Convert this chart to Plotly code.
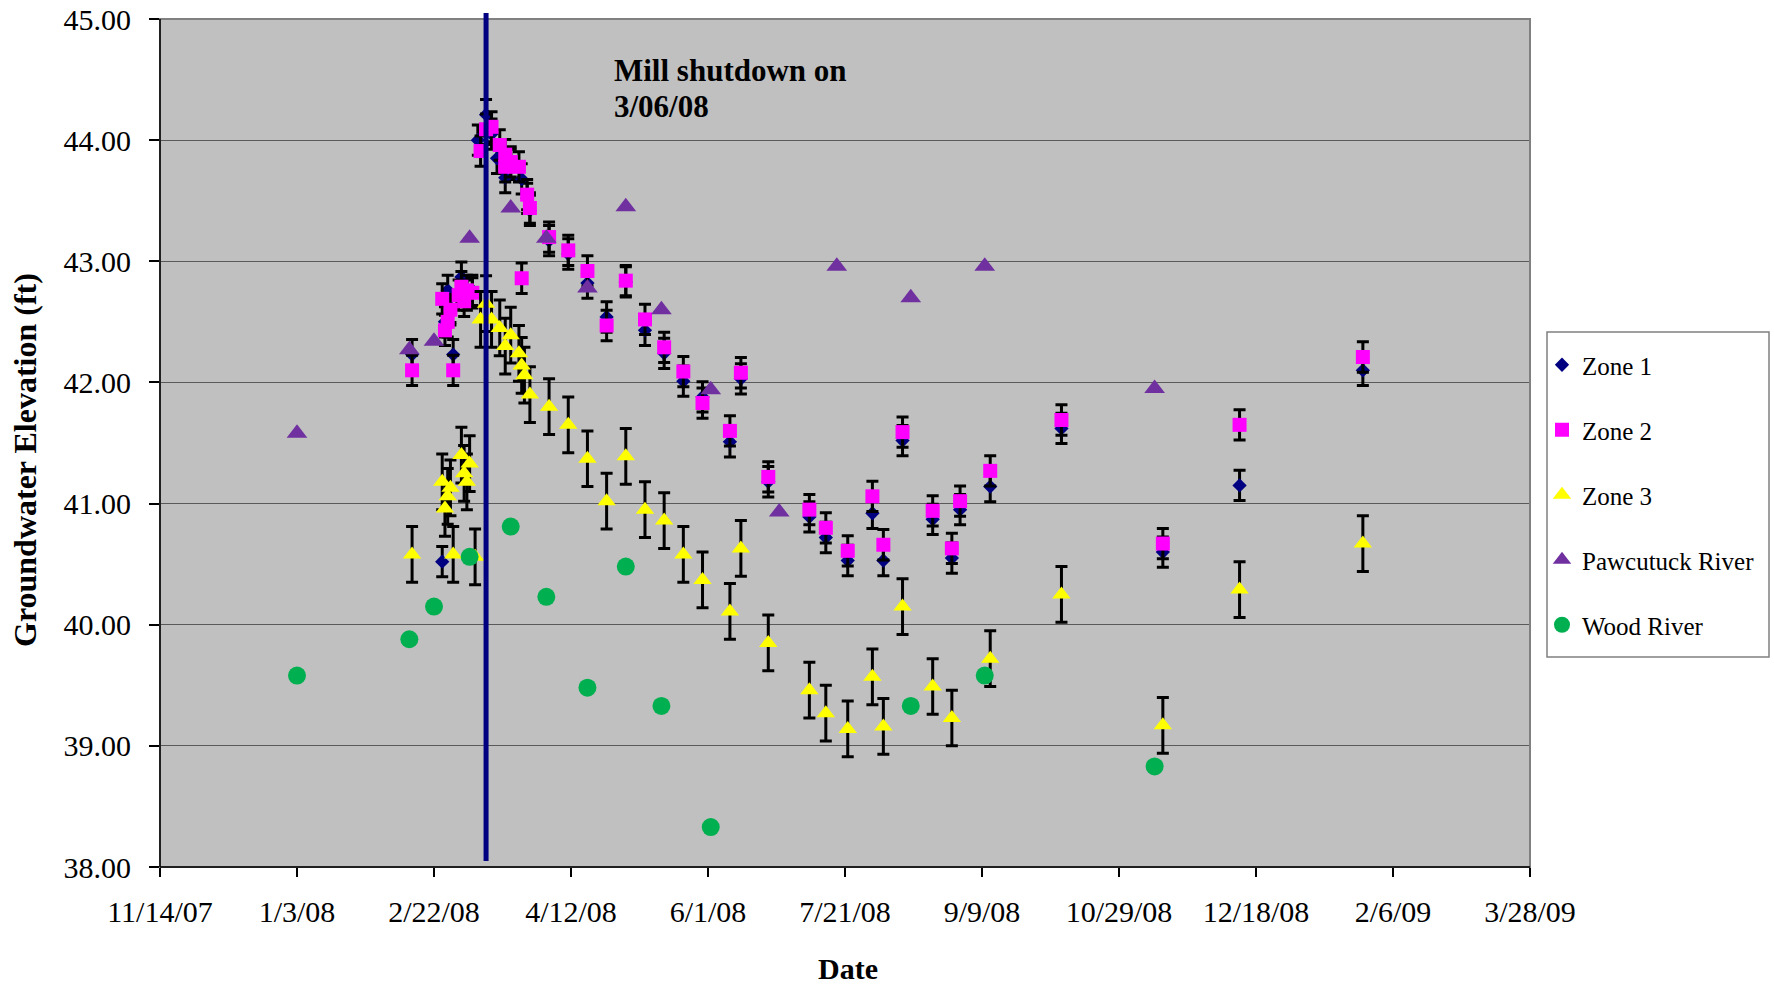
import pandas as pd
import plotly.graph_objects as go

# ---- data -------------------------------------------------------------
zone1_dates = ["2008-02-14", "2008-02-25", "2008-02-26", "2008-02-27", "2008-02-28", "2008-02-29",
               "2008-03-03", "2008-03-05", "2008-03-07", "2008-03-09", "2008-03-12", "2008-03-14",
               "2008-03-16", "2008-03-19", "2008-03-21", "2008-03-25", "2008-03-27", "2008-03-28",
               "2008-04-04", "2008-04-11", "2008-04-18", "2008-04-25", "2008-05-02", "2008-05-09",
               "2008-05-16", "2008-05-23", "2008-05-30", "2008-06-09", "2008-06-13", "2008-06-23",
               "2008-07-08", "2008-07-14", "2008-07-22", "2008-07-31", "2008-08-04", "2008-08-11",
               "2008-08-22", "2008-08-29", "2008-09-01", "2008-09-12", "2008-10-08", "2008-11-14",
               "2008-12-12", "2009-01-26"]
zone1_values = [42.23, 40.52, 42.50, 42.76, 42.62, 42.23,
                42.87, 42.72, 42.76, 44.00, 44.21, 44.05,
                43.85, 43.69, 43.80, 43.68, 43.52, 43.42,
                43.17, 43.06, 42.82, 42.54, 42.83, 42.43,
                42.24, 42.01, 41.88, 41.51, 42.03, 41.18,
                40.89, 40.72, 40.53, 40.92, 40.53, 41.52,
                40.87, 40.55, 40.95, 41.14, 41.62, 40.60,
                41.15, 42.10]

zone2_dates = ["2008-02-14", "2008-02-25", "2008-02-26", "2008-02-27", "2008-02-28", "2008-02-29",
               "2008-03-02", "2008-03-03", "2008-03-04", "2008-03-05", "2008-03-07", "2008-03-10",
               "2008-03-12", "2008-03-14", "2008-03-17", "2008-03-19", "2008-03-19", "2008-03-21",
               "2008-03-24", "2008-03-25", "2008-03-27", "2008-03-28", "2008-04-04", "2008-04-11",
               "2008-04-18", "2008-04-25", "2008-05-02", "2008-05-09", "2008-05-16", "2008-05-23",
               "2008-05-30", "2008-06-09", "2008-06-13", "2008-06-23", "2008-07-08", "2008-07-14",
               "2008-07-22", "2008-07-31", "2008-08-04", "2008-08-11", "2008-08-22", "2008-08-29",
               "2008-09-01", "2008-09-12", "2008-10-08", "2008-11-14", "2008-12-12", "2009-01-26"]
zone2_values = [42.10, 42.69, 42.43, 42.50, 42.60, 42.10,
                42.72, 42.79, 42.67, 42.76, 42.74, 43.91,
                44.09, 44.11, 43.96, 43.88, 43.78, 43.82,
                43.78, 42.86, 43.55, 43.44, 43.20, 43.09,
                42.92, 42.47, 42.84, 42.52, 42.29, 42.09,
                41.83, 41.60, 42.08, 41.22, 40.95, 40.80,
                40.61, 41.06, 40.66, 41.59, 40.94, 40.63,
                41.02, 41.27, 41.69, 40.67, 41.65, 42.21]

zone3_dates = ["2008-02-14", "2008-02-25", "2008-02-26", "2008-02-27", "2008-02-28", "2008-02-29",
               "2008-03-03", "2008-03-04", "2008-03-05", "2008-03-06", "2008-03-08", "2008-03-10",
               "2008-03-12", "2008-03-14", "2008-03-17", "2008-03-19", "2008-03-21", "2008-03-24",
               "2008-03-25", "2008-03-26", "2008-03-28", "2008-04-04", "2008-04-11", "2008-04-18",
               "2008-04-25", "2008-05-02", "2008-05-09", "2008-05-16", "2008-05-23", "2008-05-30",
               "2008-06-09", "2008-06-13", "2008-06-23", "2008-07-08", "2008-07-14", "2008-07-22",
               "2008-07-31", "2008-08-04", "2008-08-11", "2008-08-22", "2008-08-29", "2008-09-12",
               "2008-10-08", "2008-11-14", "2008-12-12", "2009-01-26"]
zone3_values = [40.58, 41.18, 40.96, 41.06, 41.13, 40.58,
                41.40, 41.25, 41.18, 41.33, 40.56, 42.52,
                42.65, 42.52, 42.45, 42.30, 42.39, 42.24,
                42.14, 42.06, 41.90, 41.80, 41.65, 41.37,
                41.02, 41.39, 40.95, 40.86, 40.58, 40.37,
                40.11, 40.63, 39.85, 39.46, 39.27, 39.14,
                39.57, 39.16, 40.15, 39.49, 39.23, 39.72,
                40.25, 39.17, 40.29, 40.67]

pawcatuck_dates = ["2008-01-03", "2008-02-13", "2008-02-22", "2008-03-06", "2008-03-21",
                   "2008-04-03", "2008-04-18", "2008-05-02", "2008-05-15", "2008-06-02",
                   "2008-06-27", "2008-07-18", "2008-08-14", "2008-09-10", "2008-11-11"]
pawcatuck_values = [41.58, 42.27, 42.34, 43.19, 43.44,
                    43.19, 42.78, 43.45, 42.60, 41.94,
                    40.93, 42.96, 42.70, 42.96, 41.95]

wood_dates = ["2008-01-03", "2008-02-13", "2008-02-22", "2008-03-06", "2008-03-21",
              "2008-04-03", "2008-04-18", "2008-05-02", "2008-05-15", "2008-06-02",
              "2008-08-14", "2008-09-10", "2008-11-11"]
wood_values = [39.58, 39.88, 40.15, 40.56, 40.81,
               40.23, 39.48, 40.48, 39.33, 38.33,
               39.33, 39.58, 38.83]

# measurement uncertainty (ft)
zone12_error = 0.125
zone3_error = 0.23

shutdown_line_date = "2008-03-12"

x_tick_labels = ["11/14/07", "1/3/08", "2/22/08", "4/12/08", "6/1/08", "7/21/08",
                 "9/9/08", "10/29/08", "12/18/08", "2/6/09", "3/28/09"]
y_ticks = [38, 39, 40, 41, 42, 43, 44, 45]

# ---- figure -------------------------------------------------------------
FONT = "Liberation Serif, Times New Roman, serif"
x_tick_vals = pd.to_datetime(x_tick_labels, format="%m/%d/%y")

W, H = 1774, 985
ML, MR, MT, MB = 160, 244, 19, 118
plot_w = W - ML - MR
plot_h = H - MT - MB


def px_to_paper_x(px):
    return (px - ML) / plot_w


def px_to_paper_y(py):
    return (H - MB - py) / plot_h


def err(v):
    return dict(type="constant", value=v, color="black", thickness=3, width=6)


fig = go.Figure()
fig.add_trace(go.Scatter(
    x=pd.to_datetime(zone1_dates), y=zone1_values, mode="markers", name="Zone 1",
    legendgroup="z1",
    marker=dict(symbol="diamond", size=11, color="#000080", line=dict(width=0)),
    error_y=err(zone12_error)))
fig.add_trace(go.Scatter(
    x=pd.to_datetime(zone2_dates), y=zone2_values, mode="markers", name="Zone 2",
    legendgroup="z2",
    marker=dict(symbol="square", size=14, color="#FF00FF", line=dict(width=0)),
    error_y=err(zone12_error)))
fig.add_trace(go.Scatter(
    x=pd.to_datetime(zone3_dates), y=zone3_values, mode="markers", name="Zone 3",
    legendgroup="z3",
    marker=dict(symbol="triangle-up", size=16, color="#FFFF00", line=dict(width=0)),
    error_y=err(zone3_error)))
fig.add_trace(go.Scatter(
    x=pd.to_datetime(pawcatuck_dates), y=pawcatuck_values, mode="markers", name="Pawcutuck River",
    legendgroup="pr",
    marker=dict(symbol="triangle-up", size=18, color="#7030A0", line=dict(width=0))))
fig.add_trace(go.Scatter(
    x=pd.to_datetime(wood_dates), y=wood_values, mode="markers", name="Wood River",
    legendgroup="wr",
    marker=dict(symbol="circle", size=18, color="#00B050", line=dict(width=0))))

LEG_L, LEG_T, LEG_R, LEG_B = 1547, 332, 1769, 657

fig.update_layout(
    width=W, height=H,
    margin=dict(l=ML, r=MR, t=MT, b=MB, pad=0, autoexpand=False),
    paper_bgcolor="white",
    plot_bgcolor="#C0C0C0",
    font=dict(family=FONT, size=30, color="black"),
    showlegend=True,
    legend=dict(
        x=px_to_paper_x(1542), xanchor="left",
        y=px_to_paper_y(342), yanchor="top",
        bgcolor="rgba(0,0,0,0)", borderwidth=0,
        font=dict(family=FONT, size=25, color="black"),
        tracegroupgap=29.5, itemsizing="trace",
    ),
    xaxis=dict(
        type="date", automargin=False,
        range=[x_tick_vals[0], x_tick_vals[-1]],
        tickvals=x_tick_vals, ticktext=x_tick_labels,
        ticks="outside", ticklen=9, tickwidth=1.5, tickcolor="black",
        ticklabelstandoff=9,
        showgrid=False, zeroline=False, showline=False,
        tickfont=dict(family=FONT, size=30, color="black"),
    ),
    yaxis=dict(
        range=[38, 45], automargin=False,
        tickvals=y_ticks, tickformat=".2f",
        ticks="outside", ticklen=10, tickwidth=1.5, tickcolor="black",
        ticklabelstandoff=12,
        showgrid=True, gridcolor="#5a5a5a", gridwidth=1,
        zeroline=False, showline=False,
        tickfont=dict(family=FONT, size=30, color="black"),
    ),
    shapes=[
        # plot-area frame
        dict(type="rect", xref="paper", yref="paper", x0=0, x1=1, y0=0, y1=1,
             line=dict(color="#808080", width=2), layer="above"),
        # left and bottom axis lines
        dict(type="line", xref="paper", yref="paper", x0=0, x1=0, y0=0, y1=1,
             line=dict(color="black", width=1.5), layer="above"),
        dict(type="line", xref="paper", yref="paper", x0=0, x1=1, y0=0, y1=0,
             line=dict(color="black", width=1.5), layer="above"),
        # mill shutdown marker
        dict(type="line", xref="x", yref="paper",
             x0=shutdown_line_date, x1=shutdown_line_date,
             y0=px_to_paper_y(861), y1=px_to_paper_y(13),
             line=dict(color="#000080", width=5), layer="above"),
        # legend box
        dict(type="rect", xref="paper", yref="paper",
             x0=px_to_paper_x(LEG_L), x1=px_to_paper_x(LEG_R),
             y0=px_to_paper_y(LEG_B), y1=px_to_paper_y(LEG_T),
             fillcolor="white", line=dict(color="#808080", width=1.5), layer="above"),
    ],
    annotations=[
        dict(text="<b>Mill shutdown on</b>", xref="paper", yref="paper",
             x=px_to_paper_x(612), y=px_to_paper_y(70.5), xanchor="left", yanchor="middle",
             showarrow=False, font=dict(family=FONT, size=31, color="black")),
        dict(text="<b>3/06/08</b>", xref="paper", yref="paper",
             x=px_to_paper_x(612), y=px_to_paper_y(107), xanchor="left", yanchor="middle",
             showarrow=False, font=dict(family=FONT, size=31, color="black")),
        dict(text="<b>Groundwater Elevation (ft)</b>", xref="paper", yref="paper",
             x=px_to_paper_x(25), y=px_to_paper_y(460), xanchor="center", yanchor="middle",
             textangle=-90, showarrow=False, font=dict(family=FONT, size=32, color="black")),
        dict(text="<b>Date</b>", xref="paper", yref="paper",
             x=px_to_paper_x(848), y=px_to_paper_y(968), xanchor="center", yanchor="middle",
             showarrow=False, font=dict(family=FONT, size=30, color="black")),
    ],
)

fig.write_html("out.html")
